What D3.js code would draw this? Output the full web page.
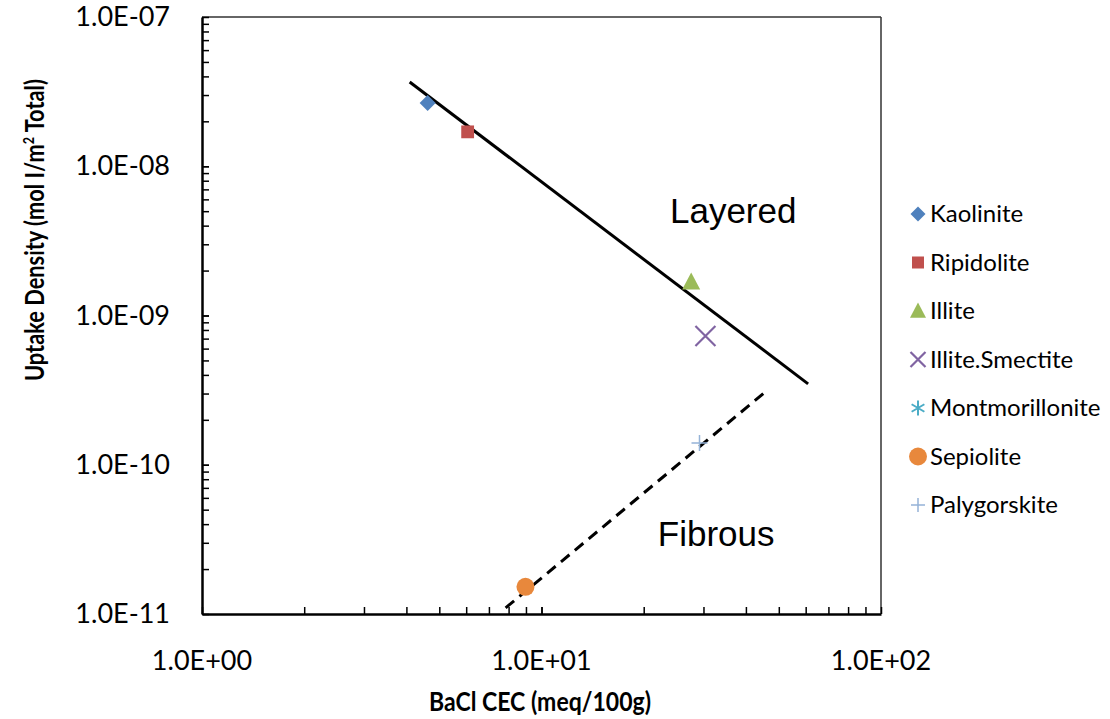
<!DOCTYPE html>
<html><head><meta charset="utf-8">
<script src="https://cdn.jsdelivr.net/npm/d3@7"></script>
<style>body{margin:0;background:#fff}svg{display:block}</style>
</head><body>
<svg id="c" width="1110" height="719"></svg>
<script>
// ---- data ----
const seriesNames = ["Kaolinite","Ripidolite","Illite","Illite.Smectite","Montmorillonite","Sepiolite","Palygorskite"];
const seriesX = [4.62, 6.06, 27.6, 30.4, null, 8.97, 29.2];
const seriesY = [2.65e-8, 1.70e-8, 1.68e-9, 7.29e-10, null, 1.52e-11, 1.40e-10];
const seriesColors = ["#4F81BD","#C0504D","#9BBB59","#8064A2","#4BACC6","#E8883C","#95B3D7"];
const seriesSymbols = ["diamond","square","triangle","x","star","circle","plus"];
const layeredLineX = [4.09, 61.0];
const layeredLineY = [3.67e-8, 3.48e-10];
const fibrousLineX = [7.84, 45.6];
const fibrousLineY = [1.10e-11, 3.07e-10];
const xTickValues = [1, 10, 100];
const xTickLabels = ["1.0E+00","1.0E+01","1.0E+02"];
const yTickValues = [1e-11, 1e-10, 1e-9, 1e-8, 1e-7];
const yTickLabels = ["1.0E-11","1.0E-10","1.0E-09","1.0E-08","1.0E-07"];
const annotationTexts = ["Layered", "Fibrous"];
const annotationX = [36.7, 32.7];
const annotationY = [4.17e-9, 2.86e-11];

const svg = d3.select("#c");
const L = 202, R = 881, T = 17, B = 614;
const x = d3.scaleLog().domain([1, 100]).range([L, R]);
const y = d3.scaleLog().domain([1e-11, 1e-7]).range([B, T]);
const calib = "Lato, 'Open Sans', sans-serif";

// minor ticks
const xMinor = [], yMinor = [];
for (let d = 1; d < 100; d *= 10) for (let k = 1; k <= 10; k++) xMinor.push(d * k);
for (let e = -11; e < -7; e++) for (let k = 1; k <= 10; k++) yMinor.push(k * Math.pow(10, e));

// frame top & right
svg.append("line").attr("x1", L).attr("x2", R).attr("y1", T).attr("y2", T).attr("stroke", "#333").attr("stroke-width", 1.5);
svg.append("line").attr("x1", R).attr("x2", R).attr("y1", T).attr("y2", B).attr("stroke", "#333").attr("stroke-width", 1.5);

// x axis
const xAx = svg.append("g").attr("transform", `translate(0,${B})`)
  .call(d3.axisBottom(x).tickValues(xMinor).tickSizeInner(-7).tickSizeOuter(0).tickFormat(""));
xAx.select(".domain").attr("stroke", "#000").attr("stroke-width", 2.5);
xAx.selectAll(".tick line").attr("stroke", "#000").attr("stroke-width", 1.5);
svg.append("g").selectAll("text").data(xTickValues).join("text")
  .attr("x", d => x(d)).attr("y", 670).attr("text-anchor", "middle")
  .attr("font-family", calib).attr("font-size", 27).attr("fill", "#000")
  .text((d, i) => xTickLabels[i]);

// y axis
const yAx = svg.append("g").attr("transform", `translate(${L},0)`)
  .call(d3.axisLeft(y).tickValues(yMinor).tickSizeInner(-7).tickSizeOuter(0).tickFormat(""));
yAx.select(".domain").attr("stroke", "#000").attr("stroke-width", 2.5);
yAx.selectAll(".tick line").attr("stroke", "#000").attr("stroke-width", 1.5);
svg.append("g").selectAll("text").data(yTickValues).join("text")
  .attr("x", 170).attr("y", d => y(d) + 9).attr("text-anchor", "end")
  .attr("font-family", calib).attr("font-size", 27).attr("fill", "#000")
  .text((d, i) => yTickLabels[i]);

// axis titles
svg.append("text").attr("x", 540).attr("y", 711).attr("text-anchor", "middle")
  .attr("font-family", calib).attr("font-weight", "bold").attr("font-size", 26)
  .attr("textLength", 222).attr("lengthAdjust", "spacingAndGlyphs").text("BaCl CEC (meq/100g)");
const yt = svg.append("text").attr("transform", "translate(44,230) rotate(-90)").attr("text-anchor", "middle")
  .attr("font-family", calib).attr("font-weight", "bold").attr("font-size", 26)
  .attr("textLength", 302).attr("lengthAdjust", "spacingAndGlyphs");
yt.append("tspan").text("Uptake Density (mol I/m");
yt.append("tspan").attr("font-size", 15).attr("dy", -10).text("2");
yt.append("tspan").attr("dy", 10).text(" Total)");

// trend lines
const line = d3.line().x(d => x(d[0])).y(d => y(d[1]));
svg.append("path").datum(layeredLineX.map((v, i) => [v, layeredLineY[i]]))
  .attr("d", line).attr("stroke", "#000").attr("stroke-width", 3).attr("fill", "none");
svg.append("path").datum(fibrousLineX.map((v, i) => [v, fibrousLineY[i]]))
  .attr("d", line).attr("stroke", "#000").attr("stroke-width", 3).attr("fill", "none")
  .attr("stroke-dasharray", "11,7");

// markers
function drawMarker(g, sym, color, s) {
  if (sym === "diamond") g.append("path").attr("d", `M0,${-s}L${s},0L0,${s}L${-s},0Z`).attr("fill", color);
  else if (sym === "square") g.append("rect").attr("x", -s*0.8).attr("y", -s*0.8).attr("width", s*1.6).attr("height", s*1.6).attr("fill", color);
  else if (sym === "triangle") g.append("path").attr("d", `M0,${-s*1.05}L${s},${s*0.85}L${-s},${s*0.85}Z`).attr("fill", color);
  else if (sym === "x") g.append("path").attr("d", `M${-s},${-s}L${s},${s}M${-s},${s}L${s},${-s}`).attr("stroke", color).attr("stroke-width", 2.2);
  else if (sym === "star") g.append("path").attr("d", `M0,${-s}L0,${s}M${-s*0.85},${-s*0.5}L${s*0.85},${s*0.5}M${-s*0.85},${s*0.5}L${s*0.85},${-s*0.5}`).attr("stroke", color).attr("stroke-width", 2);
  else if (sym === "circle") g.append("circle").attr("r", s).attr("fill", color);
  else if (sym === "plus") g.append("path").attr("d", `M${-s},0L${s},0M0,${-s}L0,${s}`).attr("stroke", color).attr("stroke-width", 1.5);
}
const plotSizes = {diamond: 8, square: 8, triangle: 9, x: 10, star: 9, circle: 9, plus: 8};
seriesNames.forEach((n, i) => {
  if (seriesX[i] == null) return;
  const g = svg.append("g").attr("transform", `translate(${x(seriesX[i])},${y(seriesY[i])})`);
  drawMarker(g, seriesSymbols[i], seriesColors[i], plotSizes[seriesSymbols[i]]);
});

// annotations
svg.append("g").selectAll("text").data(annotationTexts).join("text")
  .attr("x", (d, i) => x(annotationX[i])).attr("y", (d, i) => y(annotationY[i])).attr("text-anchor", "middle")
  .attr("font-family", "'Liberation Sans', Arial, sans-serif").attr("font-size", 35).text(d => d);

// legend
const legSizes = {diamond: 7.5, square: 7.5, triangle: 8, x: 7.5, star: 7.5, circle: 9, plus: 7};
const leg = svg.append("g");
seriesNames.forEach((n, i) => {
  const yy = 214 + i * 48.5;
  const g = leg.append("g").attr("transform", `translate(918,${yy})`);
  drawMarker(g, seriesSymbols[i], seriesColors[i], legSizes[seriesSymbols[i]]);
  leg.append("text").attr("x", 930).attr("y", yy + 8).attr("font-family", calib)
    .attr("font-size", 24).attr("fill", "#000").text(n);
});
</script>
</body></html>
